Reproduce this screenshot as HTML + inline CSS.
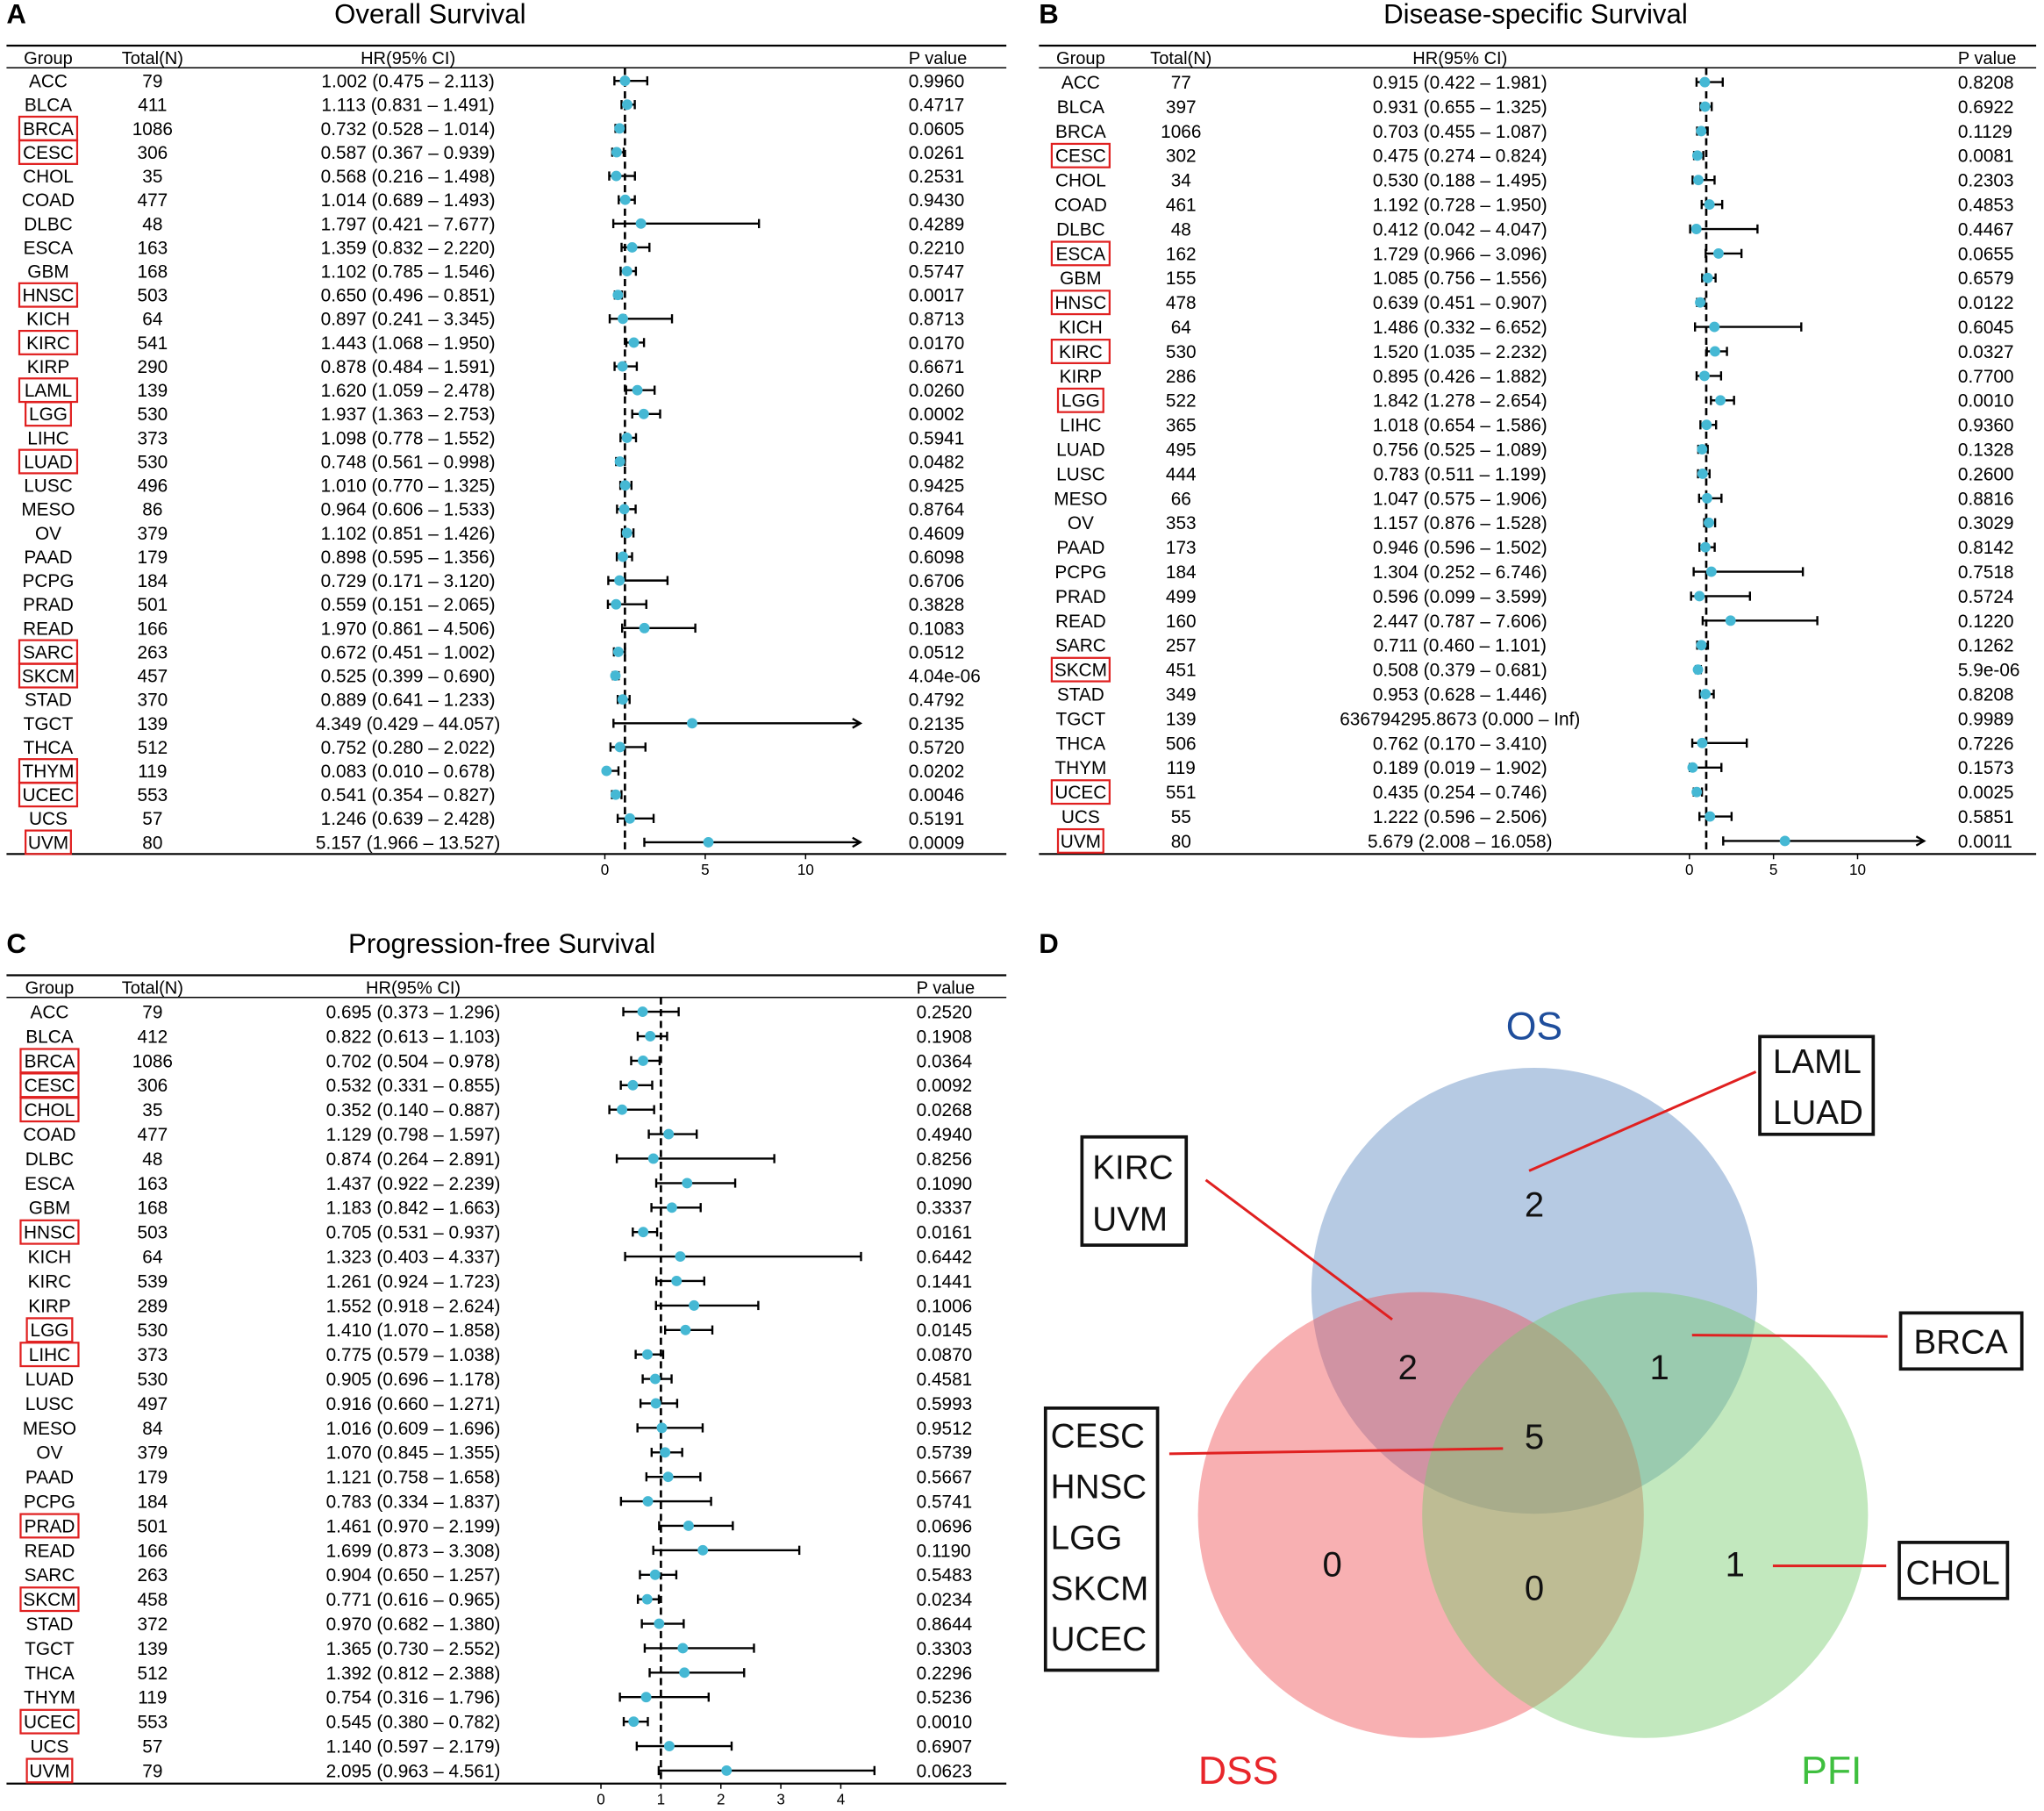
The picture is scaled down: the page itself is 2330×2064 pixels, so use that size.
<!DOCTYPE html>
<html><head><meta charset="utf-8"><style>
html,body{margin:0;padding:0;background:#fff;}
svg{display:block;font-family:"Liberation Sans",Arial,sans-serif;}
</style></head><body>
<svg id="fig" width="2330" height="2064" viewBox="0 0 1568 1389" xmlns="http://www.w3.org/2000/svg">
<g id="venn">
<text x="797" y="731" font-size="21" font-weight="bold">D</text>
<circle cx="1177" cy="990" r="171" fill="rgb(110,150,200)" fill-opacity="0.5"/>
<circle cx="1090" cy="1162" r="171" fill="rgb(240,80,85)" fill-opacity="0.45"/>
<circle cx="1262" cy="1162" r="171" fill="rgb(120,205,110)" fill-opacity="0.45"/>
<text x="1177" y="797" font-size="30" fill="#1f4e9c" text-anchor="middle">OS</text>
<text x="950" y="1368" font-size="30" fill="#e8262b" text-anchor="middle">DSS</text>
<text x="1405" y="1368" font-size="30" fill="#3fbf3f" text-anchor="middle">PFI</text>
<g font-size="27" text-anchor="middle" fill="#111">
<text x="1177" y="933">2</text>
<text x="1080" y="1058">2</text>
<text x="1273" y="1058">1</text>
<text x="1177" y="1111">5</text>
<text x="1022" y="1209">0</text>
<text x="1177" y="1227">0</text>
<text x="1331" y="1209">1</text>
</g>
<g stroke="#e02020" stroke-width="2">
<line x1="1347" y1="822" x2="1173" y2="898"/>
<line x1="925" y1="905" x2="1068" y2="1012"/>
<line x1="1298" y1="1024" x2="1448" y2="1025"/>
<line x1="897" y1="1115" x2="1153" y2="1111"/>
<line x1="1360" y1="1201" x2="1447" y2="1201"/>
</g>
<g fill="#fff" stroke="#111" stroke-width="2.5">
<rect x="1350" y="795" width="87" height="75"/>
<rect x="830" y="872" width="80" height="83"/>
<rect x="1458" y="1007" width="93" height="43"/>
<rect x="802" y="1080" width="86" height="201"/>
<rect x="1457" y="1183" width="83" height="43"/>
</g>
<g font-size="26" fill="#111">
<text x="1360" y="823">LAML</text><text x="1360" y="862">LUAD</text>
<text x="838" y="904">KIRC</text><text x="838" y="944">UVM</text>
<text x="1468" y="1038">BRCA</text>
<text x="806" y="1110">CESC</text><text x="806" y="1149">HNSC</text><text x="806" y="1188">LGG</text><text x="806" y="1227">SKCM</text><text x="806" y="1266">UCEC</text>
<text x="1462" y="1215">CHOL</text>
</g>
</g>
</svg>
<script>
// ===== Panel A: Overall Survival =====
const osGroups=["ACC","BLCA","BRCA","CESC","CHOL","COAD","DLBC","ESCA","GBM","HNSC","KICH","KIRC","KIRP","LAML","LGG","LIHC","LUAD","LUSC","MESO","OV","PAAD","PCPG","PRAD","READ","SARC","SKCM","STAD","TGCT","THCA","THYM","UCEC","UCS","UVM"];
const osTotals=[79,411,1086,306,35,477,48,163,168,503,64,541,290,139,530,373,530,496,86,379,179,184,501,166,263,457,370,139,512,119,553,57,80];
const osHR=[1.002,1.113,0.732,0.587,0.568,1.014,1.797,1.359,1.102,0.650,0.897,1.443,0.878,1.620,1.937,1.098,0.748,1.010,0.964,1.102,0.898,0.729,0.559,1.970,0.672,0.525,0.889,4.349,0.752,0.083,0.541,1.246,5.157];
const osLo=[0.475,0.831,0.528,0.367,0.216,0.689,0.421,0.832,0.785,0.496,0.241,1.068,0.484,1.059,1.363,0.778,0.561,0.770,0.606,0.851,0.595,0.171,0.151,0.861,0.451,0.399,0.641,0.429,0.280,0.010,0.354,0.639,1.966];
const osHi=[2.113,1.491,1.014,0.939,1.498,1.493,7.677,2.220,1.546,0.851,3.345,1.950,1.591,2.478,2.753,1.552,0.998,1.325,1.533,1.426,1.356,3.120,2.065,4.506,1.002,0.690,1.233,44.057,2.022,0.678,0.827,2.428,13.527];
const osP=["0.9960","0.4717","0.0605","0.0261","0.2531","0.9430","0.4289","0.2210","0.5747","0.0017","0.8713","0.0170","0.6671","0.0260","0.0002","0.5941","0.0482","0.9425","0.8764","0.4609","0.6098","0.6706","0.3828","0.1083","0.0512","4.04e-06","0.4792","0.2135","0.5720","0.0202","0.0046","0.5191","0.0009"];
const osMarked=["BRCA","CESC","HNSC","KIRC","LAML","LGG","LUAD","SARC","SKCM","THYM","UCEC","UVM"];
const osTicks=[0,5,10];

// ===== Panel B: Disease-specific Survival =====
const dssGroups=["ACC","BLCA","BRCA","CESC","CHOL","COAD","DLBC","ESCA","GBM","HNSC","KICH","KIRC","KIRP","LGG","LIHC","LUAD","LUSC","MESO","OV","PAAD","PCPG","PRAD","READ","SARC","SKCM","STAD","TGCT","THCA","THYM","UCEC","UCS","UVM"];
const dssTotals=[77,397,1066,302,34,461,48,162,155,478,64,530,286,522,365,495,444,66,353,173,184,499,160,257,451,349,139,506,119,551,55,80];
const dssHR=[0.915,0.931,0.703,0.475,0.530,1.192,0.412,1.729,1.085,0.639,1.486,1.520,0.895,1.842,1.018,0.756,0.783,1.047,1.157,0.946,1.304,0.596,2.447,0.711,0.508,0.953,636794295.8673,0.762,0.189,0.435,1.222,5.679];
const dssLo=[0.422,0.655,0.455,0.274,0.188,0.728,0.042,0.966,0.756,0.451,0.332,1.035,0.426,1.278,0.654,0.525,0.511,0.575,0.876,0.596,0.252,0.099,0.787,0.460,0.379,0.628,0,0.170,0.019,0.254,0.596,2.008];
const dssHi=[1.981,1.325,1.087,0.824,1.495,1.950,4.047,3.096,1.556,0.907,6.652,2.232,1.882,2.654,1.586,1.089,1.199,1.906,1.528,1.502,6.746,3.599,7.606,1.101,0.681,1.446,Infinity,3.410,1.902,0.746,2.506,16.058];
const dssP=["0.8208","0.6922","0.1129","0.0081","0.2303","0.4853","0.4467","0.0655","0.6579","0.0122","0.6045","0.0327","0.7700","0.0010","0.9360","0.1328","0.2600","0.8816","0.3029","0.8142","0.7518","0.5724","0.1220","0.1262","5.9e-06","0.8208","0.9989","0.7226","0.1573","0.0025","0.5851","0.0011"];
const dssMarked=["CESC","ESCA","HNSC","KIRC","LGG","SKCM","UCEC","UVM"];
const dssTicks=[0,5,10];

// ===== Panel C: Progression-free Survival =====
const pfiGroups=["ACC","BLCA","BRCA","CESC","CHOL","COAD","DLBC","ESCA","GBM","HNSC","KICH","KIRC","KIRP","LGG","LIHC","LUAD","LUSC","MESO","OV","PAAD","PCPG","PRAD","READ","SARC","SKCM","STAD","TGCT","THCA","THYM","UCEC","UCS","UVM"];
const pfiTotals=[79,412,1086,306,35,477,48,163,168,503,64,539,289,530,373,530,497,84,379,179,184,501,166,263,458,372,139,512,119,553,57,79];
const pfiHR=[0.695,0.822,0.702,0.532,0.352,1.129,0.874,1.437,1.183,0.705,1.323,1.261,1.552,1.410,0.775,0.905,0.916,1.016,1.070,1.121,0.783,1.461,1.699,0.904,0.771,0.970,1.365,1.392,0.754,0.545,1.140,2.095];
const pfiLo=[0.373,0.613,0.504,0.331,0.140,0.798,0.264,0.922,0.842,0.531,0.403,0.924,0.918,1.070,0.579,0.696,0.660,0.609,0.845,0.758,0.334,0.970,0.873,0.650,0.616,0.682,0.730,0.812,0.316,0.380,0.597,0.963];
const pfiHi=[1.296,1.103,0.978,0.855,0.887,1.597,2.891,2.239,1.663,0.937,4.337,1.723,2.624,1.858,1.038,1.178,1.271,1.696,1.355,1.658,1.837,2.199,3.308,1.257,0.965,1.380,2.552,2.388,1.796,0.782,2.179,4.561];
const pfiP=["0.2520","0.1908","0.0364","0.0092","0.0268","0.4940","0.8256","0.1090","0.3337","0.0161","0.6442","0.1441","0.1006","0.0145","0.0870","0.4581","0.5993","0.9512","0.5739","0.5667","0.5741","0.0696","0.1190","0.5483","0.0234","0.8644","0.3303","0.2296","0.5236","0.0010","0.6907","0.0623"];
const pfiMarked=["BRCA","CESC","CHOL","HNSC","LGG","LIHC","PRAD","SKCM","UCEC","UVM"];
const pfiTicks=[0,1,2,3,4];

const NS="http://www.w3.org/2000/svg";
const svg=document.getElementById('fig');
function mk(tag,attrs,parent,txt){const e=document.createElementNS(NS,tag);for(const k in attrs)e.setAttribute(k,attrs[k]);if(txt!==undefined)e.textContent=txt;(parent||svg).appendChild(e);return e;}

function forest(c){
  const g=mk('g',{});
  
  
  const L=mk('text',{x:c.x0,y:c.titleY+7,'font-size':21,'font-weight':'bold'},g,c.letter);
  
  
  const T=mk('text',{x:c.titleX,y:c.titleY+7,'font-size':21,'text-anchor':'middle'},g,c.title);
  
  
  mk('line',{x1:c.x0,x2:c.x1,y1:c.topY,y2:c.topY,stroke:'#000','stroke-width':1.5},g);
  mk('line',{x1:c.x0,x2:c.x1,y1:c.headY+8,y2:c.headY+8,stroke:'#000','stroke-width':1},g);
  mk('line',{x1:c.x0,x2:c.x1,y1:c.botY,y2:c.botY,stroke:'#000','stroke-width':1.5},g);
  const hs=[['Group',c.gX,'middle'],['Total(N)',c.nX,'middle'],['HR(95% CI)',c.hrX,'middle'],['P value',c.pX,'start']];
  hs.forEach(h=>{const t=mk('text',{x:h[1],y:c.headY+5,'font-size':13.5,'text-anchor':h[2]},g,h[0]);
    
    });
  const xs=v=>c.ax0+v*c.scale;
  // reference line at HR=1
  const ref=mk('line',{x1:xs(1),x2:xs(1),y1:c.headY+8,y2:c.botY,stroke:'#000','stroke-width':1.8,'stroke-dasharray':'5.5,3.5'},g);
  
  
  // ticks
  mk('line',{x1:xs(c.ticks[0]),x2:xs(c.ticks[c.ticks.length-1]),y1:c.botY,y2:c.botY,stroke:'#000','stroke-width':1},g);
  c.ticks.forEach(t=>{mk('line',{x1:xs(t),x2:xs(t),y1:c.botY,y2:c.botY+4,stroke:'#000'},g);
    const tl=mk('text',{x:xs(t),y:c.botY+16,'font-size':11.5,'text-anchor':'middle'},g,String(t));
    
    });
  const n=c.groups.length, step=(c.lastY-c.firstY)/(n-1);
  for(let i=0;i<n;i++){
    const y=c.firstY+i*step, ty=y+5;
    const gt=mk('text',{x:c.gX,y:ty,'font-size':14,'text-anchor':'middle'},g,c.groups[i]);
    
    
    if(c.marked.includes(c.groups[i])){
      const w=c.groups[i].length*9.6+6;
      const b=mk('rect',{x:c.gX-w/2,y:y-9,width:w,height:18,fill:'none',stroke:'#e02020','stroke-width':1.5},g);
      
      
    }
    mk('text',{x:c.nX,y:ty,'font-size':14,'text-anchor':'middle'},g,String(c.totals[i]));
    const fin=isFinite(c.hi[i]);
    const hrs=fin?`${c.hr[i].toFixed(3)} (${c.lo[i].toFixed(3)} \u2013 ${c.hi[i].toFixed(3)})`:`${c.hr[i].toFixed(4)} (${c.lo[i].toFixed(3)} \u2013 Inf)`;
    mk('text',{x:c.hrX,y:ty,'font-size':14,'text-anchor':'middle'},g,hrs);
    mk('text',{x:c.pX,y:ty,'font-size':14},g,c.p[i]);
    if(!fin) continue;
    const xl=xs(c.lo[i]); let xh=xs(c.hi[i]); let arrow=false;
    if(xh>c.clip){xh=c.clip;arrow=true;}
    const ci=mk('line',{x1:xl,x2:xh,y1:y,y2:y,stroke:'#000','stroke-width':1.6},g);
    
    
    mk('line',{x1:xl,x2:xl,y1:y-3.5,y2:y+3.5,stroke:'#000','stroke-width':1.6},g);
    if(arrow) mk('path',{d:`M${xh-6},${y-3.5}L${xh},${y}L${xh-6},${y+3.5}`,fill:'none',stroke:'#000','stroke-width':1.6},g);
    else mk('line',{x1:xh,x2:xh,y1:y-3.5,y2:y+3.5,stroke:'#000','stroke-width':1.6},g);
    const pt=mk('circle',{cx:xs(c.hr[i]),cy:y,r:4,fill:'#45b8d4'},g);
    
    
  }
}
forest({name:'overall-survival-forest',letter:'A',title:'Overall Survival',x0:5,x1:772,titleX:330,titleY:11,topY:35,headY:44,botY:655,
  gX:37,nX:117,hrX:313,pX:697,firstY:62,lastY:646,ax0:464,scale:15.4,clip:660,ticks:osTicks,
  groups:osGroups,totals:osTotals,hr:osHR,lo:osLo,hi:osHi,p:osP,marked:osMarked});
forest({name:'disease-specific-survival-forest',letter:'B',title:'Disease-specific Survival',x0:797,x1:1562,titleX:1178,titleY:11,topY:35,headY:44,botY:655,
  gX:829,nX:906,hrX:1120,pX:1502,firstY:63,lastY:645,ax0:1296,scale:12.9,clip:1476,ticks:dssTicks,
  groups:dssGroups,totals:dssTotals,hr:dssHR,lo:dssLo,hi:dssHi,p:dssP,marked:dssMarked});
forest({name:'progression-free-survival-forest',letter:'C',title:'Progression-free Survival',x0:5,x1:772,titleX:385,titleY:724,topY:748,headY:757,botY:1368,
  gX:38,nX:117,hrX:317,pX:703,firstY:776,lastY:1358,ax0:461,scale:46,clip:700,ticks:pfiTicks,
  groups:pfiGroups,totals:pfiTotals,hr:pfiHR,lo:pfiLo,hi:pfiHi,p:pfiP,marked:pfiMarked});
</script>
</body></html>
